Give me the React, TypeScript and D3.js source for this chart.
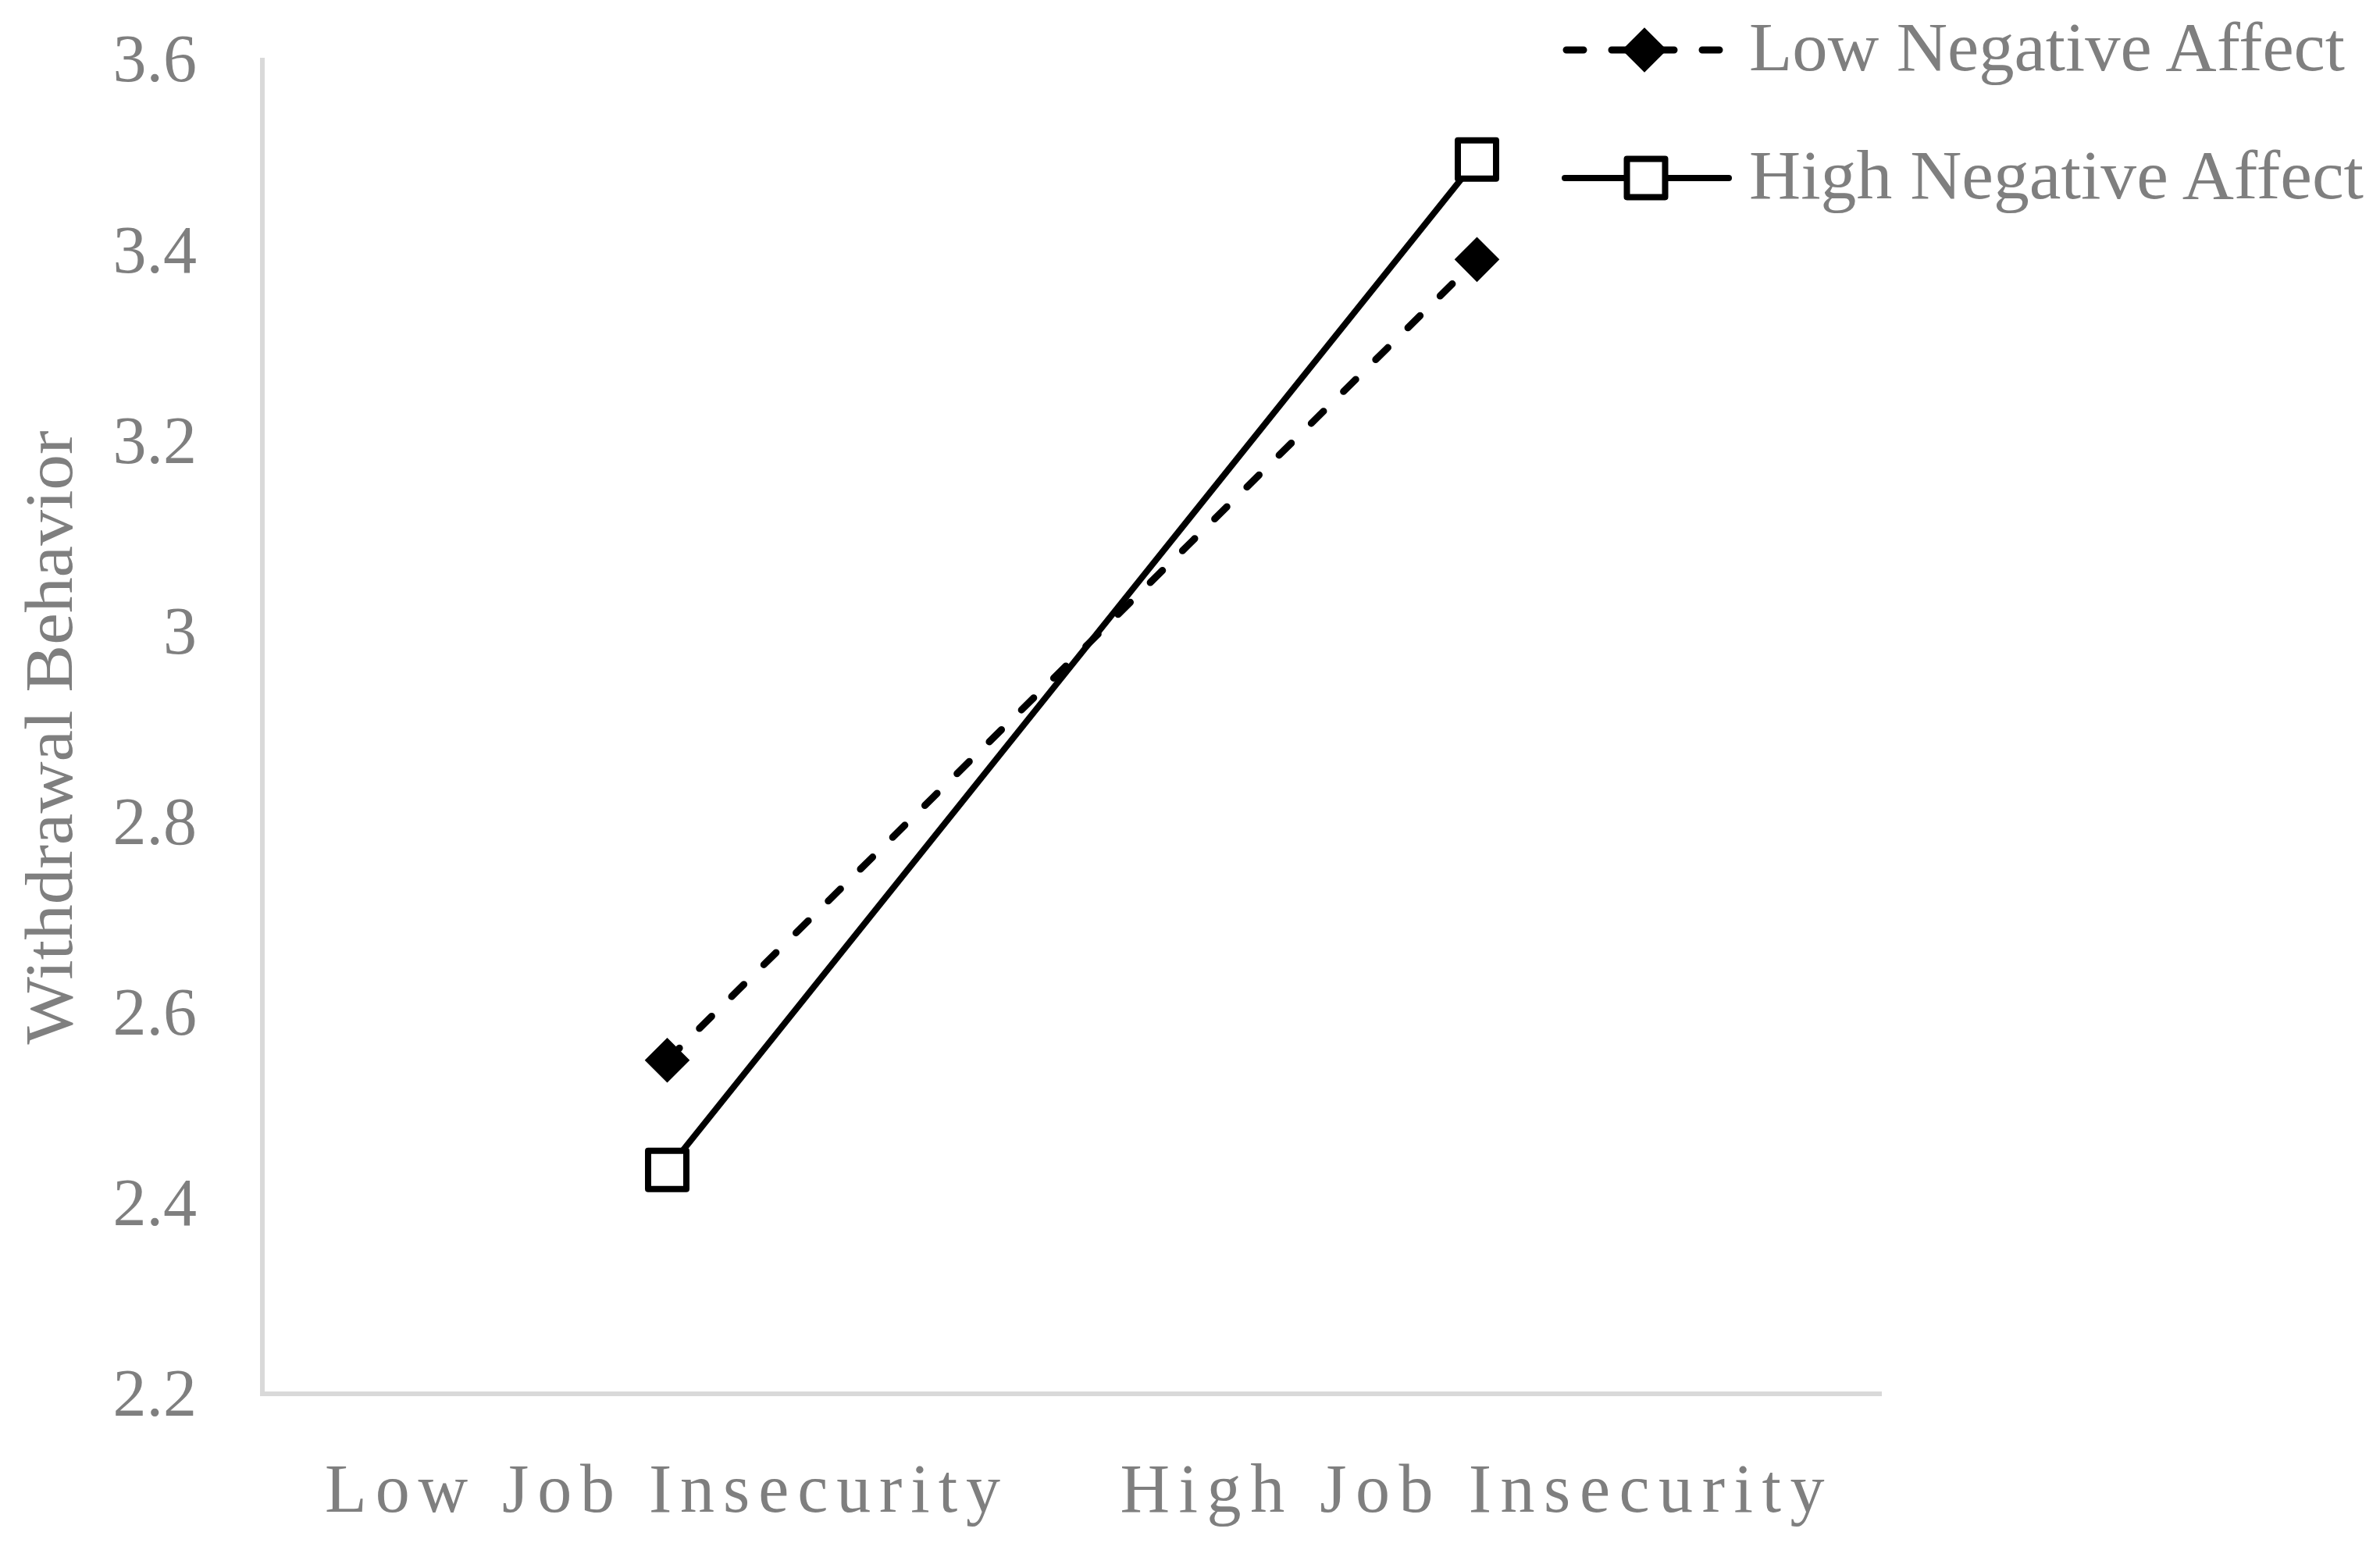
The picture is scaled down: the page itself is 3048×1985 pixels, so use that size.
import React from 'react'
import * as d3 from 'd3'

const categories = ['Low Job Insecurity', 'High Job Insecurity']
const seriesNames = ['Low Negative Affect', 'High Negative Affect']
const lowNegativeAffect = [2.55, 3.39]
const highNegativeAffect = [2.435, 3.495]
const yTicks = [2.2, 2.4, 2.6, 2.8, 3.0, 3.2, 3.4, 3.6]
const yTickLabels = ['2.2', '2.4', '2.6', '2.8', '3', '3.2', '3.4', '3.6']

const W = 3048
const H = 1985
const left = 336
const right = 2410
const top = 76
const bottom = 1785

const x = d3.scalePoint<string>().domain(categories).range([left, right]).padding(0.5)
const y = d3.scaleLinear().domain([2.2, 3.6]).range([bottom, top])

const line = d3
  .line<number>()
  .x((d, i) => x(categories[i]) as number)
  .y((d) => y(d))

const diamond = d3.symbol().type(d3.symbolSquare).size(1500)()
const square = d3.symbol().type(d3.symbolSquare).size(2400)()

const FONT = '"Liberation Serif", "Times New Roman", serif'
const GREY = '#7f7f7f'
const DASH = '22 36'

const Diamond = ({ cx, cy }: { cx: number; cy: number }) => (
  <path d={diamond as string} transform={`translate(${cx},${cy}) rotate(45)`} fill="#000" stroke="#000" strokeWidth={2} />
)

const Square = ({ cx, cy }: { cx: number; cy: number }) => (
  <path d={square as string} transform={`translate(${cx},${cy})`} fill="#fff" stroke="#000" strokeWidth={8} strokeLinejoin="round" />
)

const App = () => {
  const legendRows = [64, 228]
  const xLabelWidths = [865, 902]

  return (
    <svg
      width={W}
      height={H}
      style={{ position: 'absolute', left: 0, top: 0, background: '#fff' }}
      fontFamily={FONT}
    >
      {/* axes */}
      <line x1={left} x2={left} y1={top - 2} y2={bottom + 3} stroke="#d9d9d9" strokeWidth={6} />
      <line x1={left - 3} x2={right} y1={bottom} y2={bottom} stroke="#d9d9d9" strokeWidth={6} />

      {yTicks.map((t, i) => (
        <text key={t} x={252} y={y(t)} dy="0.33em" textAnchor="end" fontSize={86} fill={GREY}>
          {yTickLabels[i]}
        </text>
      ))}

      {categories.map((c, i) => (
        <text
          key={c}
          x={(x(c) as number) - xLabelWidths[i] / 2 - 6}
          y={1936}
          fontSize={88}
          fill={GREY}
          textLength={xLabelWidths[i]}
          lengthAdjust="spacing"
        >
          {c}
        </text>
      ))}

      <text
        transform={`translate(92,${(top + bottom) / 2 + 14}) rotate(-90)`}
        x={-393}
        fontSize={86}
        fill={GREY}
        textLength={786}
        lengthAdjust="spacingAndGlyphs"
      >
        Withdrawal Behavior
      </text>

      {/* series lines */}
      <path
        d={line(lowNegativeAffect) as string}
        fill="none"
        stroke="#000"
        strokeWidth={9}
        strokeDasharray={DASH}
        strokeLinecap="round"
      />
      <path d={line(highNegativeAffect) as string} fill="none" stroke="#000" strokeWidth={8} />

      {lowNegativeAffect.map((v, i) => (
        <Diamond key={i} cx={x(categories[i]) as number} cy={y(v)} />
      ))}
      {highNegativeAffect.map((v, i) => (
        <Square key={i} cx={x(categories[i]) as number} cy={y(v)} />
      ))}

      {/* legend */}
      <line x1={2006} x2={2212} y1={legendRows[0]} y2={legendRows[0]} stroke="#000" strokeWidth={9} strokeDasharray={DASH} strokeLinecap="round" />
      <Diamond cx={2106} cy={legendRows[0]} />
      <line x1={2004} x2={2214} y1={legendRows[1]} y2={legendRows[1]} stroke="#000" strokeWidth={8} strokeLinecap="round" />
      <Square cx={2108} cy={legendRows[1]} />
      {seriesNames.map((s, i) => (
        <text key={s} x={2240} y={legendRows[i] + 26} fontSize={88} fill={GREY} textLength={i === 0 ? 763 : 787} lengthAdjust="spacingAndGlyphs">
          {s}
        </text>
      ))}
    </svg>
  )
}

export default App
